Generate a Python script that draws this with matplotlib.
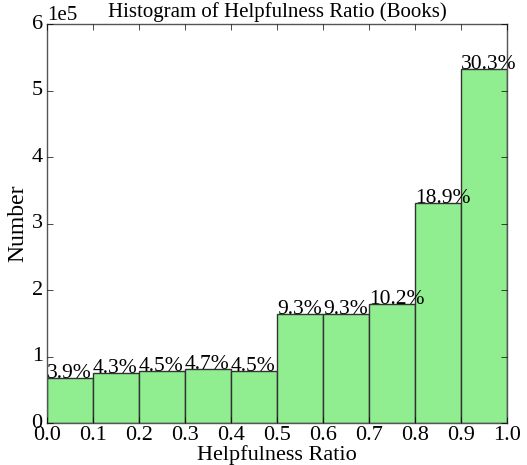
import matplotlib
matplotlib.use("Agg")
import matplotlib.pyplot as plt

bin_edges = [0.0, 0.1, 0.2, 0.3, 0.4, 0.5, 0.6, 0.7, 0.8, 0.9, 1.0]
counts = [68500, 75500, 79000, 82000, 79000, 163500, 164000, 179500, 331000, 532000]
pct_labels = ["3.9%", "4.3%", "4.5%", "4.7%", "4.5%", "9.3%", "9.3%", "10.2%", "18.9%", "30.3%"]

plt.style.use("classic")
plt.rcParams["font.family"] = "serif"
plt.rcParams["font.serif"] = ["Liberation Serif", "DejaVu Serif"]

fig = plt.figure(figsize=(5.27, 4.65), dpi=100)
ax = fig.add_axes([0.089, 0.090, 0.873, 0.858])

lefts = bin_edges[:-1]
widths = [b - a for a, b in zip(bin_edges[:-1], bin_edges[1:])]
ax.bar(lefts, counts, width=widths, align="edge", color="lightgreen",
       edgecolor="#333333", linewidth=1.0)

# percentage labels sit on the bar tops, starting at each bin's left edge
for x, h, lab in zip(lefts, counts, pct_labels):
    ax.text(x, h, lab, ha="left", va="baseline", fontsize=15.5)

ax.set_xlim(0, 1)
ax.set_ylim(0, 600000)
ax.set_xticks(bin_edges)
ax.ticklabel_format(axis="y", style="sci", scilimits=(0, 0))
ax.tick_params(labelsize=16)
ax.tick_params(axis="x", pad=2)
ax.tick_params(axis="y", pad=3)
ax.yaxis.get_offset_text().set_fontsize(15)
for s in ax.spines.values():
    s.set_color("#555555")

ax.set_title("Histogram of Helpfulness Ratio (Books)", fontsize=15)
ax.set_xlabel("Helpfulness Ratio", fontsize=16, labelpad=0)
ax.set_ylabel("Number", fontsize=17, labelpad=2)

fig.savefig("out.png", dpi=100)
